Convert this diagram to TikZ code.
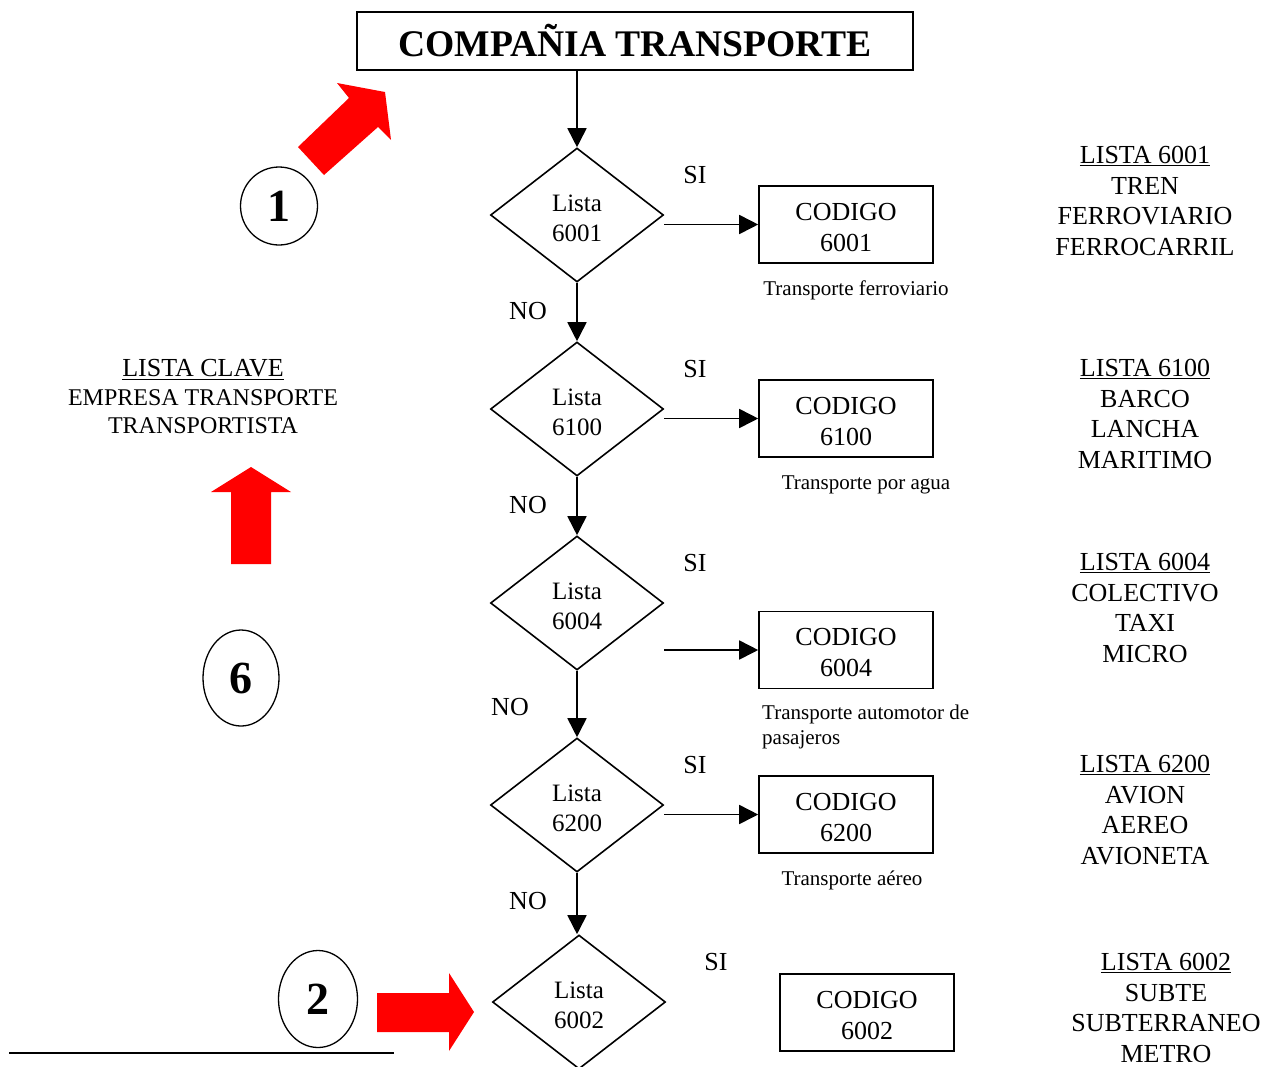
\documentclass[tikz,border=0pt]{standalone}
\usepackage{fontspec}
\setmainfont{Liberation Serif}
\usetikzlibrary{shapes.geometric,arrows.meta}
\definecolor{arrowred}{RGB}{255,0,0}
\tikzset{
  line/.style={line width=1.7pt},
  flow/.style={line, -{Triangle[length=19pt,width=19pt]}},
  decision/.style={draw, line width=1.6pt, diamond, aspect=1.29, minimum width=173pt, minimum height=134pt, inner sep=0pt,
    label={[align=center, inner sep=0pt, yshift=-3pt, font=\fontsize{25}{30}\selectfont]center:#1}},
  codebox/.style={draw, line width=1.6pt, minimum width=174pt, minimum height=77pt, inner sep=0pt,
    label={[align=center, inner sep=0pt, yshift=-3pt, font=\fontsize{26}{31}\selectfont]center:#1}},
  caption/.style={font=\fontsize{21}{26}\selectfont, inner sep=0pt},
  answer/.style={font=\fontsize{26}{30}\selectfont, inner sep=0pt},
  listtext/.style={align=center, inner sep=0pt, font=\fontsize{26}{30.6}\selectfont},
  marker/.style={draw, line width=1.3pt, ellipse, inner sep=0pt, font=\fontsize{46}{46}\selectfont\bfseries},
  bigarrow/.style={fill=arrowred, draw=none}
}
\begin{document}
\begin{tikzpicture}[x=1pt,y=-1pt]
\useasboundingbox (0,0) rectangle (1279,1066);

% title
\node[draw, line width=1.6pt, minimum width=556pt, minimum height=58pt, inner sep=0pt,
      font=\fontsize{37.6}{40}\selectfont\bfseries] (title) at (635,41) {COMPAÑIA TRANSPORTE};

% decision chain
\node[decision={Lista\\6001}] (d1) at (577,215) {};
\node[decision={Lista\\6100}] (d2) at (577,409) {};
\node[decision={Lista\\6004}] (d3) at (577,603) {};
\node[decision={Lista\\6200}] (d4) at (577,805) {};
\node[decision={Lista\\6002}] (d5) at (579,1002) {};

% code boxes
\node[codebox={CODIGO\\6001}] (c1) at (846,224.5) {};
\node[codebox={CODIGO\\6100}] (c2) at (846,418.5) {};
\node[codebox={CODIGO\\6004}] (c3) at (846,650) {};
\node[codebox={CODIGO\\6200}] (c4) at (846,814.5) {};
\node[codebox={CODIGO\\6002}] (c5) at (867,1012.5) {};

% connectors
\draw[flow] (title.south -| d1.north) -- (d1.north);
\draw[flow] (d1.south) -- (d2.north);
\draw[flow] (d2.south) -- (d3.north);
\draw[flow] (d3.south) -- (d4.north);
\draw[flow] (d4.south) -- (d5.north -| d4.south);
\draw[flow] (c1.west -| d1.east) -- (c1.west);
\draw[flow] (c2.west -| d2.east) -- (c2.west);
\draw[flow] (c3.west -| d3.east) -- (c3.west);
\draw[flow] (c4.west -| d4.east) -- (c4.west);

% branch labels
\node[answer] (si1) at (695,175) {SI};
\node[answer] (si2) at (695,369) {SI};
\node[answer] (si3) at (695,563) {SI};
\node[answer] (si4) at (695,765) {SI};
\node[answer] (si5) at (716,962) {SI};
\node[answer] (no1) at (528,311) {NO};
\node[answer] (no2) at (528,505) {NO};
\node[answer] (no3) at (510,707) {NO};
\node[answer] (no4) at (528,901) {NO};

% captions under the boxes
\node[caption] (t1) at (856,290) {Transporte ferroviario};
\node[caption] (t2) at (866,485) {Transporte por agua};
\node[caption, anchor=west] (t3a) at (762,714) {Transporte automotor de};
\node[caption, anchor=west] (t3b) at (762,740) {pasajeros};
\node[caption] (t4) at (852,880) {Transporte aéreo};

% keyword lists
\node[listtext] (l1) at (1145,201) {\underline{LISTA 6001}\\TREN\\FERROVIARIO\\FERROCARRIL};
\node[listtext] (l2) at (1145,414) {\underline{LISTA 6100}\\BARCO\\LANCHA\\MARITIMO};
\node[listtext] (l3) at (1145,608) {\underline{LISTA 6004}\\COLECTIVO\\TAXI\\MICRO};
\node[listtext] (l4) at (1145,810) {\underline{LISTA 6200}\\AVION\\AEREO\\AVIONETA};
\node[listtext] (l5) at (1166,1008) {\underline{LISTA 6002}\\SUBTE\\SUBTERRANEO\\METRO};

\node[align=center, inner sep=0pt, font=\fontsize{24}{28.5}\selectfont] (clave) at (203,397)
  {\underline{\fontsize{26}{28.5}\selectfont LISTA CLAVE}\\EMPRESA TRANSPORTE\\TRANSPORTISTA};

% numbered markers
\node[marker, minimum width=77pt, minimum height=78pt] (m1) at (279,206) {1};
\node[marker, minimum width=76pt, minimum height=96pt] (m6) at (241,678) {6};
\node[marker, minimum width=79pt, minimum height=97pt] (m2) at (318,999) {2};

% red block arrows
\fill[bigarrow] (298,147) -- (349,98) -- (337,83) -- (385,92) -- (391,140) -- (378,127) -- (324,175) -- cycle;
\fill[bigarrow] (231,564) -- (231,492) -- (211,492) -- (251,467) -- (291,492) -- (271,492) -- (271,564) -- cycle;
\fill[bigarrow] (377,993) -- (449,993) -- (449,973) -- (474,1012) -- (449,1051) -- (449,1032) -- (377,1032) -- cycle;

% rule at the foot
\draw[line width=2pt] (9,1053) -- (394,1053);
\end{tikzpicture}
\end{document}
